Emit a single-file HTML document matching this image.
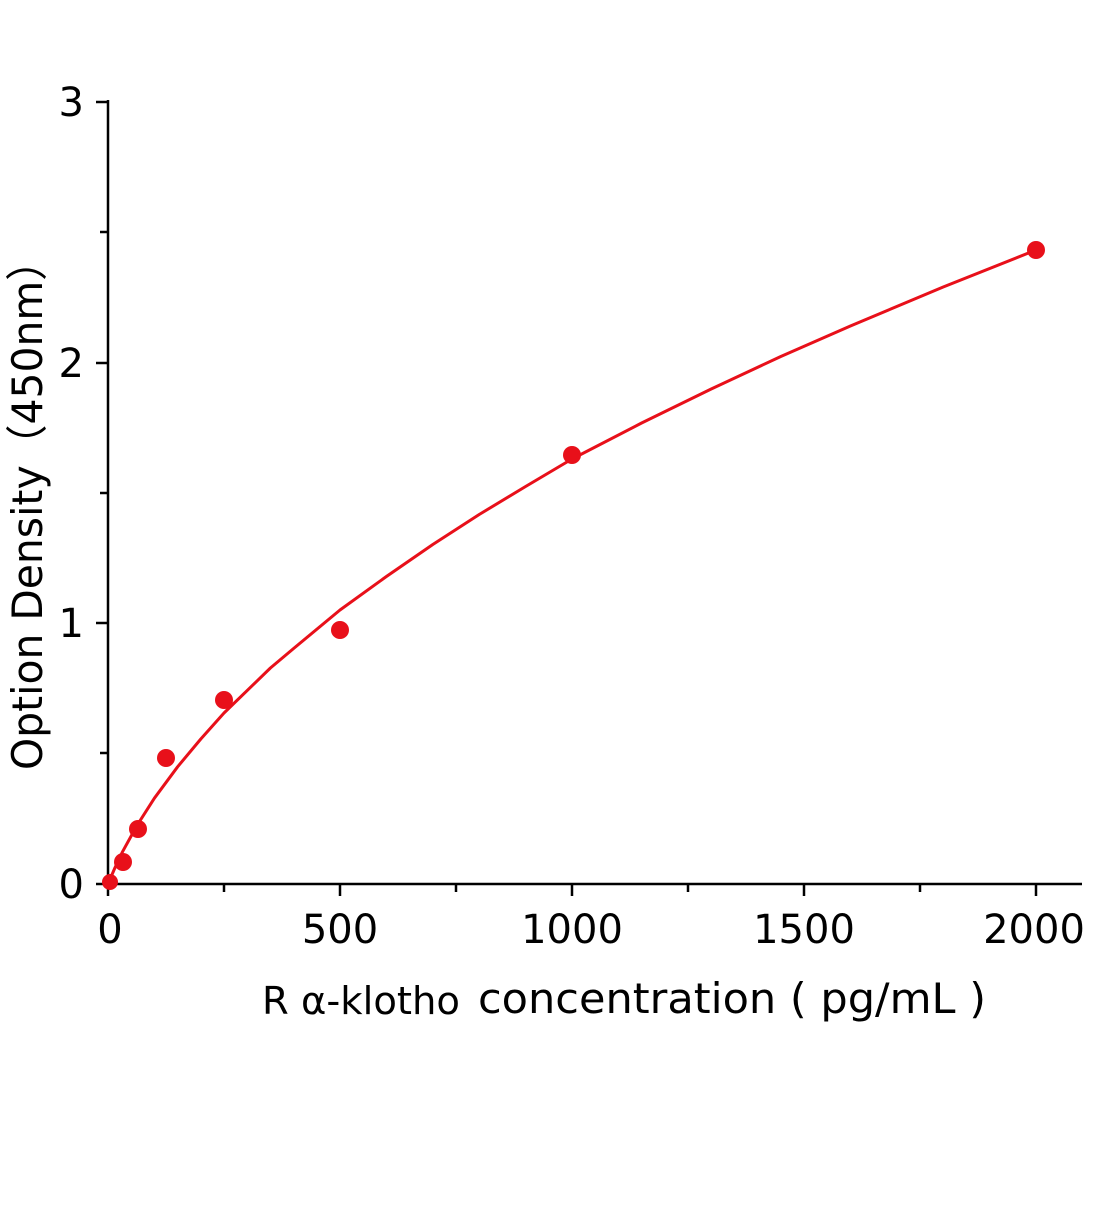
<!DOCTYPE html>
<html><head><meta charset="utf-8"><style>html,body{margin:0;padding:0;background:#fff}</style></head>
<body>
<svg width="1104" height="1200" xmlns="http://www.w3.org/2000/svg" font-family="'DejaVu Sans','Liberation Sans',sans-serif">
<g stroke="#000" stroke-width="2.5" fill="none">
<line x1="108" y1="100" x2="108" y2="885"/>
<line x1="107" y1="884" x2="1082" y2="884"/>
<line x1="96" y1="102" x2="108" y2="102"/>
<line x1="100" y1="232" x2="108" y2="232"/>
<line x1="96" y1="363" x2="108" y2="363"/>
<line x1="100" y1="493" x2="108" y2="493"/>
<line x1="96" y1="623" x2="108" y2="623"/>
<line x1="100" y1="753" x2="108" y2="753"/>
<line x1="96" y1="884" x2="108" y2="884"/>
<line x1="108" y1="884" x2="108" y2="896"/>
<line x1="224" y1="884" x2="224" y2="892"/>
<line x1="340" y1="884" x2="340" y2="896"/>
<line x1="456" y1="884" x2="456" y2="892"/>
<line x1="572" y1="884" x2="572" y2="896"/>
<line x1="688" y1="884" x2="688" y2="892"/>
<line x1="804" y1="884" x2="804" y2="896"/>
<line x1="920" y1="884" x2="920" y2="892"/>
<line x1="1036" y1="884" x2="1036" y2="896"/>
</g>
<g font-size="40" fill="#000" text-anchor="end">
<text x="84" y="116">3</text>
<text x="84" y="377">2</text>
<text x="84" y="637">1</text>
<text x="84" y="898">0</text>
</g>
<g font-size="40" fill="#000" text-anchor="middle">
<text x="110" y="943">0</text>
<text x="340" y="943">500</text>
<text x="572" y="943">1000</text>
<text x="804" y="943">1500</text>
<text x="1034" y="943">2000</text>
</g>
<text x="262" y="1014" font-size="38" textLength="198" lengthAdjust="spacingAndGlyphs">R α-klotho</text>
<text x="478" y="1013" font-size="42" textLength="508" lengthAdjust="spacingAndGlyphs">concentration ( pg/mL )</text>
<text transform="translate(42,770) rotate(-90)" font-size="42" textLength="530" lengthAdjust="spacingAndGlyphs">Option Density（450nm）</text>
<polyline fill="none" stroke="#e8101a" stroke-width="3" stroke-linejoin="round" points="108,884 115,867.6 122.5,851.8 137,825.4 154.4,798.2 177.6,766.8 200.8,739 224,713 270.4,668 293.6,648.5 340,610 386.4,576.5 432.8,544.5 479.2,514.5 525.6,486.5 572,459 641.6,423 711.2,389 780.8,356.5 850.4,326 943.2,287 1036,250"/>
<g fill="#e8101a">
<circle cx="110" cy="882" r="8"/>
<circle cx="123" cy="862" r="9"/>
<circle cx="138" cy="829" r="9"/>
<circle cx="166" cy="758" r="9"/>
<circle cx="224" cy="700" r="9"/>
<circle cx="340" cy="630" r="9"/>
<circle cx="572" cy="455" r="9"/>
<circle cx="1036" cy="250" r="9"/>
</g>
</svg>
</body></html>
